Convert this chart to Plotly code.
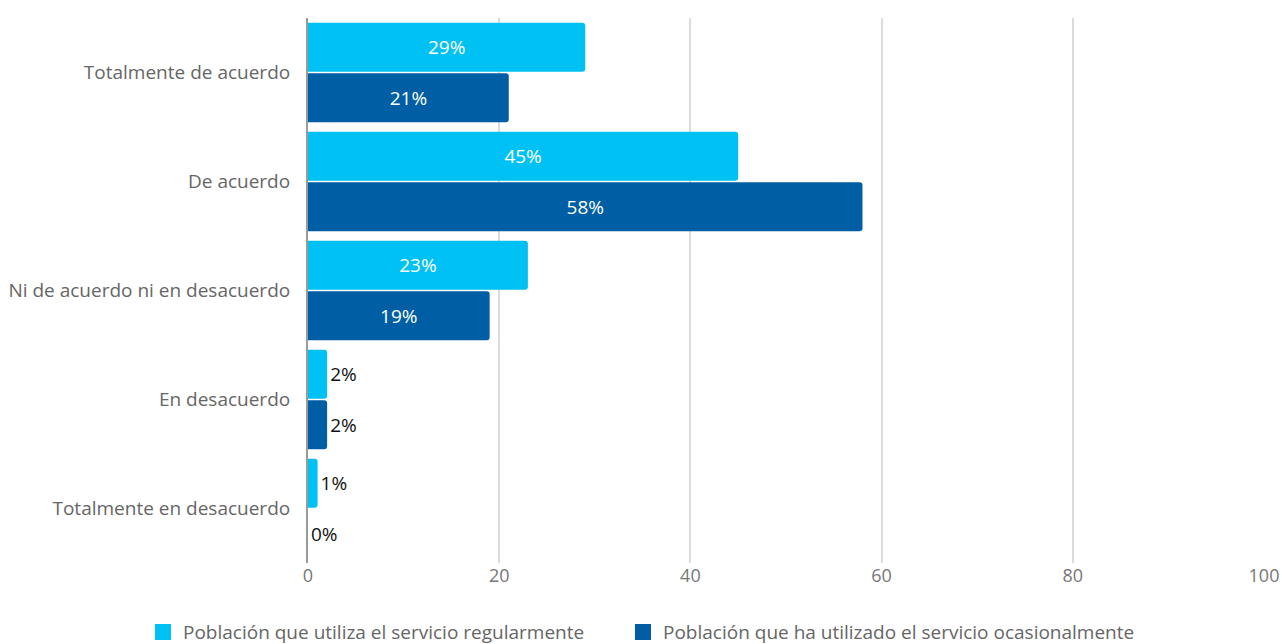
import plotly.graph_objects as go

categories = ["Totalmente de acuerdo", "De acuerdo", "Ni de acuerdo ni en desacuerdo",
              "En desacuerdo", "Totalmente en desacuerdo"]
regular = [29, 45, 23, 2, 1]
ocasional = [21, 58, 19, 2, 0]
series_names = ["Población que utiliza el servicio regularmente",
                "Población que ha utilizado el servicio ocasionalmente"]
x_ticks = [0, 20, 40, 60, 80, 100]

colors = ["#00C1F3", "#005EA5"]
FONT = "Open Sans"

fig = go.Figure()
for name, vals, col in zip(series_names, [regular, ocasional], colors):
    fig.add_trace(go.Bar(
        y=categories, x=vals, orientation="h", name=name, showlegend=False,
        marker=dict(color=col, cornerradius=3, line=dict(width=0)),
        text=[f"{v}%" for v in vals],
        textposition=["outside" if v == 0 else "auto" for v in vals],
        insidetextanchor="middle",
        insidetextfont=dict(color="white", size=19, family=FONT),
        outsidetextfont=dict(color="#111111", size=19, family=FONT),
        textangle=0, cliponaxis=False,
    ))
# legend entries with larger square symbols (one legend box per series)
for name, col, lg in zip(series_names, colors, ["legend", "legend2"]):
    fig.add_trace(go.Scatter(
        x=[None], y=[None], mode="markers", name=name, legend=lg,
        marker=dict(symbol="square", size=24, color=col),
        showlegend=True, hoverinfo="skip",
    ))

legend_common = dict(orientation="h", xanchor="left", y=-0.127, yanchor="middle",
                     itemsizing="trace", font=dict(size=19, color="#666666"))

fig.update_layout(
    width=1282, height=644, autosize=False,
    margin=dict(l=308, r=18, t=18, b=81, autoexpand=False),
    paper_bgcolor="white", plot_bgcolor="white",
    barmode="group", bargap=0.075, bargroupgap=0.03,
    font=dict(family=FONT, color="#666666", size=18),
    xaxis=dict(range=[0, 100], tickvals=x_ticks, showgrid=True,
               gridcolor="#DCDCDC", gridwidth=2, zeroline=False,
               showline=False, ticks="", tickfont=dict(size=18, color="#777777"),
               automargin=False),
    yaxis=dict(autorange="reversed", showline=True, linecolor="#9A9A9A",
               linewidth=2, ticks="", showgrid=False, automargin=False,
               tickfont=dict(size=19, color="#666666"), ticklabelstandoff=12),
    legend=dict(x=-0.1726, **legend_common),
    legend2=dict(x=0.3295, **legend_common),
    showlegend=True,
)

fig.write_html(
    "out.html",
    config={"displayModeBar": False},
    post_script="document.body.style.margin='0';document.body.style.overflow='hidden';",
)
